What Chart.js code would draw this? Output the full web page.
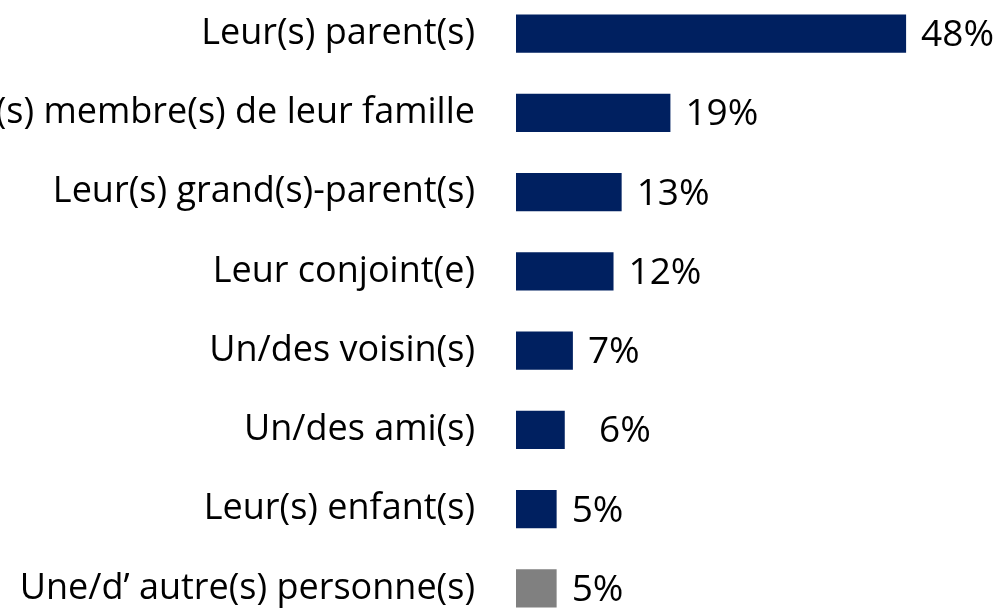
<!DOCTYPE html>
<html>
<head>
<meta charset="utf-8">
<script src="https://cdn.jsdelivr.net/npm/chart.js@4.4.1/dist/chart.umd.min.js"></script>
<style>
  html, body { margin: 0; padding: 0; background: #fff; overflow: hidden; }
  #wrap { position: relative; width: 1002px; height: 634px; margin-top: -6px; }
</style>
</head>
<body>
<div id="wrap"><canvas id="chart"></canvas></div>
<script>
const categories = [
    'Leur(s) parent(s)',
    'Autre(s) membre(s) de leur famille',
    'Leur(s) grand(s)-parent(s)',
    'Leur conjoint(e)',
    'Un/des voisin(s)',
    'Un/des ami(s)',
    'Leur(s) enfant(s)',
    'Une/d\u2019 autre(s) personne(s)'
];
const values = [48, 19, 13, 12, 7, 6, 5, 5];
const valueLabels = ['48%', '19%', '13%', '12%', '7%', '  6%', '5%', '5%'];
const barColors = ['#002060', '#002060', '#002060', '#002060', '#002060', '#002060', '#002060', '#808080'];

const fontFamily = '"Open Sans", Lato, sans-serif';

const valueLabelPlugin = {
    id: 'valueLabels',
    afterDatasetsDraw(chart) {
        const ctx = chart.ctx;
        const meta = chart.getDatasetMeta(0);
        ctx.save();
        ctx.font = '37px ' + fontFamily;
        ctx.fillStyle = '#000';
        ctx.textAlign = 'left';
        ctx.textBaseline = 'middle';
        meta.data.forEach(function (bar, i) {
            ctx.fillText(valueLabels[i], bar.x + 15, bar.y + 2);
        });
        ctx.restore();
    }
};

const chart = new Chart(document.getElementById('chart'), {
    type: 'bar',
    data: {
        labels: categories,
        datasets: [{
            data: values,
            backgroundColor: barColors,
            borderWidth: 0,
            barPercentage: 0.48,
            categoryPercentage: 1
        }]
    },
    options: {
        indexAxis: 'y',
        responsive: true,
        maintainAspectRatio: false,
        animation: false,
        events: [],
        layout: { padding: 0 },
        plugins: {
            legend: { display: false },
            tooltip: { enabled: false }
        },
        scales: {
            x: {
                display: false,
                min: 0,
                max: 59.8
            },
            y: {
                grid: { display: false, drawTicks: false },
                border: { display: false },
                ticks: {
                    padding: 41,
                    color: '#000',
                    font: { family: fontFamily, size: 36 }
                },
                afterFit(scale) {
                    scale.width = 516;
                    scale.paddingTop = 0;
                    scale.paddingBottom = 0;
                }
            }
        }
    },
    plugins: [valueLabelPlugin]
});
</script>
</body>
</html>
